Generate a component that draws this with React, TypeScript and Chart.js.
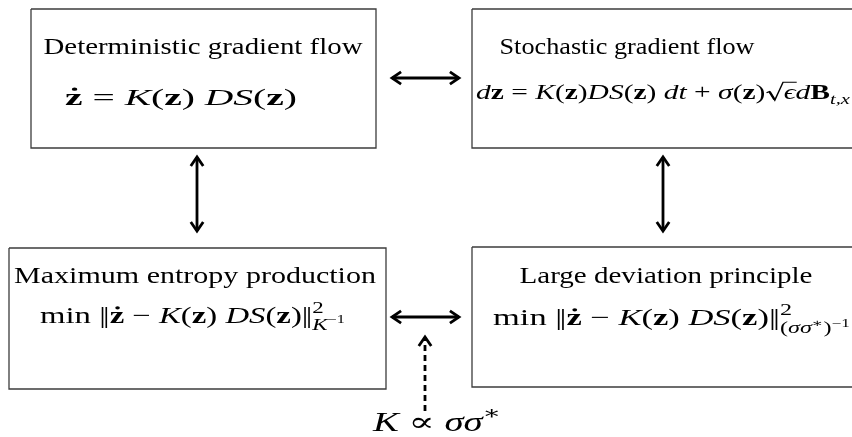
import React, { useEffect, useRef } from "react";
import { Chart, registerables } from "chart.js";
Chart.register(...registerables);

type Tok = {
  t: string;
  f?: "r" | "i" | "b";
  s?: number;
  dy?: number;
  dot?: boolean;
  sqrt?: boolean;
  mark?: boolean;
  back?: boolean;
  kern?: number;
};

const R = (t: string): Tok => ({ t, f: "r" });
const I = (t: string): Tok => ({ t, f: "i" });
const B = (t: string): Tok => ({ t, f: "b" });
const ZD: Tok = { t: "z", f: "b", dot: true };
const NORM: Tok[] = [{ t: "|", f: "r", kern: -0.08 }, { t: "|", f: "r" }];

// ---------- data ----------
const nodeTitles = [
  "Deterministic gradient flow",
  "Stochastic gradient flow",
  "Maximum entropy production",
  "Large deviation principle",
];

const eqDeterministic: Tok[] = [ZD, R(" = "), I("K"), R("("), B("z"), R(")"), R(" "), I("DS"), R("("), B("z"), R(")")];
const eqStochastic: Tok[] = [
  I("d"), B("z"), R(" = "), I("K"), R("("), B("z"), R(")"), I("DS"), R("("), B("z"), R(")"), R(" "),
  I("dt"), R(" + "), I("σ"), R("("), B("z"), R(")"), { t: "ϵ", f: "i", sqrt: true }, I("d"), B("B"),
  { t: "t,x", f: "i", s: 0.7, dy: -0.22 },
];
const eqMaxEntropy: Tok[] = [
  R("min "), ...NORM, ZD, R(" − "), I("K"), R("("), B("z"), R(")"), R(" "), I("DS"), R("("), B("z"), R(")"), ...NORM,
  { t: "2", f: "r", s: 0.7, dy: 0.42, mark: true },
  { t: "K", f: "i", s: 0.7, dy: -0.3, back: true },
  { t: "−1", f: "r", s: 0.5, dy: -0.02 },
];
const eqLargeDev: Tok[] = [
  R("min "), ...NORM, ZD, R(" − "), I("K"), R("("), B("z"), R(")"), R(" "), I("DS"), R("("), B("z"), R(")"), ...NORM,
  { t: "2", f: "r", s: 0.7, dy: 0.42, mark: true },
  { t: "(", f: "r", s: 0.7, dy: -0.36, back: true },
  { t: "σσ", f: "i", s: 0.7, dy: -0.36 },
  { t: "∗", f: "r", s: 0.5, dy: -0.1 },
  { t: ")", f: "r", s: 0.7, dy: -0.36 },
  { t: "−1", f: "r", s: 0.5, dy: -0.08 },
];
const nodeEquations = [eqDeterministic, eqStochastic, eqMaxEntropy, eqLargeDev];

const relationLabel: Tok[] = [I("K"), R(" ∝ "), I("σσ"), { t: "∗", f: "r", s: 0.7, dy: 0.45 }];

// ---------- layout (in data units of the hidden linear scales) ----------
const W = 852;
const H = 437;
const boxes = [
  { l: 31, t: 9, r: 376, b: 148, cx: 203, ty: 54, tw: 319, ex: 65, ey: 105, ew: 232, es: 24 },
  { l: 472, t: 9, r: 858, b: 148, cx: 627, ty: 54, tw: 255, ex: 476, ey: 99, ew: 374, es: 21 },
  { l: 9, t: 248, r: 386, b: 389, cx: 195, ty: 283, tw: 362, ex: 40, ey: 323, ew: 305, es: 23 },
  { l: 472, t: 247, r: 858, b: 387, cx: 666, ty: 283, tw: 293, ex: 493, ey: 325, ew: 357, es: 23 },
];
const arrows = [
  { x1: 392, y1: 78, x2: 459, y2: 78, both: true, dash: false },
  { x1: 392, y1: 317, x2: 459, y2: 317, both: true, dash: false },
  { x1: 197, y1: 157, x2: 197, y2: 231, both: true, dash: false },
  { x1: 663, y1: 157, x2: 663, y2: 231, both: true, dash: false },
  { x1: 425, y1: 411, x2: 425, y2: 337, both: false, dash: true },
];
const labelPos = { x: 373, y: 431, size: 27, w: 128 };
const FS = 23;
const FAMILY = '"Liberation Serif", "DejaVu Serif", serif';

function fontFor(f: string | undefined, sz: number) {
  const st = f === "i" ? "italic " : f === "b" ? "bold " : "";
  return `${st}${sz}px ${FAMILY}`;
}

function layoutToks(ctx: CanvasRenderingContext2D, toks: Tok[], size: number) {
  let x = 0;
  let mark = 0;
  let maxX = 0;
  const items: any[] = [];
  for (const tk of toks) {
    const sz = size * (tk.s ?? 1);
    ctx.font = fontFor(tk.f, sz);
    if (tk.back) x = mark;
    if (tk.mark) mark = x;
    const rx = x;
    if (tk.sqrt) x += 0.62 * size;
    const w = ctx.measureText(tk.t).width;
    items.push({ ...tk, x, rx, w, sz });
    x += w + (tk.kern ?? 0) * size;
    maxX = Math.max(maxX, x);
  }
  return { items, width: maxX };
}

function drawToks(
  ctx: CanvasRenderingContext2D,
  toks: Tok[],
  x0: number,
  base: number,
  size: number,
  target: number,
  center: boolean
) {
  const { items, width } = layoutToks(ctx, toks, size);
  const sx = target / width;
  const left = center ? x0 - target / 2 : x0;
  ctx.save();
  ctx.translate(left, base);
  ctx.scale(sx, 1);
  ctx.fillStyle = "#000";
  ctx.strokeStyle = "#000";
  ctx.textBaseline = "alphabetic";
  for (const it of items) {
    ctx.font = fontFor(it.f, it.sz);
    const y = -(it.dy ?? 0) * size;
    ctx.fillText(it.t, it.x, y);
    if (it.dot) {
      ctx.beginPath();
      ctx.arc(it.x + it.w / 2 + 0.02 * it.sz, y - 0.66 * it.sz, 0.07 * it.sz, 0, Math.PI * 2);
      ctx.fill();
    }
    if (it.sqrt) {
      const s = size;
      const rx = it.rx;
      ctx.lineWidth = 1.1;
      ctx.beginPath();
      ctx.moveTo(rx + 0.04 * s, y - 0.3 * s);
      ctx.lineTo(rx + 0.14 * s, y - 0.36 * s);
      ctx.lineTo(rx + 0.32 * s, y + 0.06 * s);
      ctx.lineTo(rx + 0.6 * s, y - 0.8 * s);
      ctx.lineTo(it.x + it.w + 0.04 * s, y - 0.8 * s);
      ctx.stroke();
      ctx.lineWidth = 1.8;
      ctx.beginPath();
      ctx.moveTo(rx + 0.14 * s, y - 0.35 * s);
      ctx.lineTo(rx + 0.31 * s, y + 0.03 * s);
      ctx.stroke();
    }
  }
  ctx.restore();
}

function arrowHead(ctx: CanvasRenderingContext2D, tx: number, ty: number, fx: number, fy: number) {
  const ang = Math.atan2(ty - fy, tx - fx);
  const len = 11;
  const spread = 0.6;
  ctx.beginPath();
  ctx.moveTo(tx - len * Math.cos(ang - spread), ty - len * Math.sin(ang - spread));
  ctx.lineTo(tx, ty);
  ctx.lineTo(tx - len * Math.cos(ang + spread), ty - len * Math.sin(ang + spread));
  ctx.stroke();
}

const diagramPlugin = {
  id: "diagram",
  beforeDraw(chart: any) {
    const ctx = chart.ctx as CanvasRenderingContext2D;
    ctx.save();
    ctx.fillStyle = "#fff";
    ctx.fillRect(0, 0, chart.width, chart.height);
    ctx.restore();
  },
  afterDraw(chart: any) {
    const ctx = chart.ctx as CanvasRenderingContext2D;
    const xs = chart.scales.x;
    const ys = chart.scales.y;
    const px = (v: number) => xs.getPixelForValue(v);
    const py = (v: number) => ys.getPixelForValue(v);

    boxes.forEach((b, i) => {
      drawToks(ctx, [R(nodeTitles[i])], px(b.cx), py(b.ty), FS, b.tw, true);
      drawToks(ctx, nodeEquations[i], px(b.ex), py(b.ey), b.es, b.ew, false);
    });
    drawToks(ctx, relationLabel, px(labelPos.x), py(labelPos.y), labelPos.size, labelPos.w, false);

    ctx.save();
    ctx.strokeStyle = "#000";
    ctx.lineWidth = 2.8;
    ctx.lineJoin = "miter";
    ctx.lineCap = "butt";
    arrows.forEach((a) => {
      arrowHead(ctx, px(a.x2), py(a.y2), px(a.x1), py(a.y1));
      if (a.both) arrowHead(ctx, px(a.x1), py(a.y1), px(a.x2), py(a.y2));
    });
    ctx.restore();
  },
};

export default function App() {
  const ref = useRef<HTMLCanvasElement | null>(null);
  useEffect(() => {
    if (!ref.current) return;
    const datasets: any[] = [];
    boxes.forEach((b) => {
      datasets.push({
        data: [
          { x: b.l, y: b.t },
          { x: b.r, y: b.t },
          { x: b.r, y: b.b },
          { x: b.l, y: b.b },
          { x: b.l, y: b.t },
        ],
        showLine: true,
        borderColor: "#3c3c3c",
        borderWidth: 1.3,
        pointRadius: 0,
        fill: false,
        tension: 0,
      });
    });
    arrows.forEach((a) => {
      datasets.push({
        data: [
          { x: a.x1, y: a.y1 },
          { x: a.x2, y: a.y2 },
        ],
        showLine: true,
        borderColor: "#000",
        borderWidth: 2.8,
        borderDash: a.dash ? [6, 4] : [],
        pointRadius: 0,
        fill: false,
      });
    });
    const chart = new Chart(ref.current, {
      type: "scatter",
      data: { datasets },
      options: {
        animation: false,
        responsive: false,
        maintainAspectRatio: false,
        events: [],
        layout: { padding: 0 },
        plugins: { legend: { display: false }, tooltip: { enabled: false } },
        scales: {
          x: { type: "linear", min: 0, max: W, display: false },
          y: { type: "linear", min: 0, max: H, reverse: true, display: false },
        },
      },
      plugins: [diagramPlugin],
    } as any);
    return () => chart.destroy();
  }, []);
  return (
    <div style={{ position: "fixed", left: 0, top: 0, width: W, height: H, background: "#fff" }}>
      <canvas ref={ref} width={W} height={H} style={{ display: "block" }} />
    </div>
  );
}
